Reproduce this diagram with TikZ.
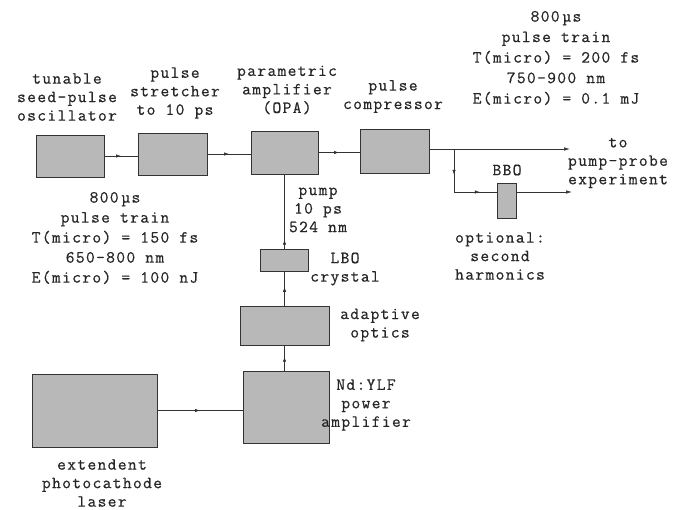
\documentclass[tikz,border=0pt]{standalone}
\usepackage{fontspec}
\setmonofont[LetterSpace=8,FakeBold=0.6]{Latin Modern Mono}
\usetikzlibrary{decorations.markings,arrows.meta}
\begin{document}
\begin{tikzpicture}[x=1pt,y=-1pt,
  box/.style={draw=black!80, line width=0.8pt, fill=black!28, inner sep=0pt},
  lbl/.style={align=center, font=\ttfamily\fontsize{17}{18.5}\selectfont, inner sep=0pt, text=black!85},
  ln/.style={line width=0.7pt, draw=black!80},
  midarrow/.style={ln, postaction={decorate}, decoration={markings, mark=at position #1 with {\arrow{Latex[length=5pt,width=3.5pt]}}}},
  endarrow/.style={ln, -{Latex[length=6pt,width=3.5pt]}}
]
\useasboundingbox (0,0) rectangle (684,509);
% boxes
\node[box, minimum width=68pt, minimum height=42pt] (osc) at (70,156) {};
\node[box, minimum width=69pt, minimum height=42pt] (str) at (172.5,154) {};
\node[box, minimum width=67pt, minimum height=43pt] (opa) at (284.5,152.5) {};
\node[box, minimum width=69pt, minimum height=44pt] (comp) at (394.5,151) {};
\node[box, minimum width=19pt, minimum height=35pt] (bbo) at (506.5,200.5) {};
\node[box, minimum width=48pt, minimum height=22pt] (lbo) at (284.5,260) {};
\node[box, minimum width=89pt, minimum height=39pt] (ada) at (284.5,325.5) {};
\node[box, minimum width=86pt, minimum height=72pt] (nd) at (286,407) {};
\node[box, minimum width=125pt, minimum height=73pt] (pc) at (94.5,410.5) {};
% coordinates
\coordinate (out1) at (570,149);
\coordinate (br) at (454,149);
\coordinate (brd) at (454,192);
\coordinate (bin) at (497,192);
\coordinate (bout) at (516,192);
\coordinate (out2) at (572,192);
% connectors
\draw[midarrow=0.5] (osc.east) -- (str.west|-osc.east);
\draw[midarrow=0.5] (str.east) -- (opa.west|-str.east);
\draw[midarrow=0.5] (opa.east) -- (comp.west|-opa.east);
\draw[endarrow] (comp.east|-out1) -- (out1);
\draw[midarrow=0.6] (br) -- (brd);
\draw[midarrow=0.6] (brd) -- (bin);
\draw[endarrow] (bout) -- (out2);
\draw[midarrow=0.12] (lbo.north) -- (opa.south);
\draw[midarrow=0.55] (ada.north) -- (lbo.south);
\draw[midarrow=0.55] (nd.north-|ada.north) -- (ada.south);
\draw[midarrow=0.5] (pc.east) -- (nd.west|-pc.east);
% labels
\node[lbl] (tosc) at (67,97) {tunable\\seed-pulse\\oscillator};
\node[lbl] (tstr) at (175,93) {pulse\\stretcher\\to 10 ps};
\node[lbl] (topa) at (287,90) {parametric\\amplifier\\(OPA)};
\node[lbl] (tcomp) at (393,96.5) {pulse\\compressor};
\node[lbl, font=\ttfamily\fontsize{17}{20.5}\selectfont] (tout) at (556,58) {800\,µs\\pulse train\\T(micro) = 200 fs\\750-900 nm\\E(micro) = 0.1 mJ};
\node[lbl] (tbbo) at (507,170) {BBO};
\node[lbl] (texp) at (618,163) {to\\pump-probe\\experiment};
\node[lbl] (topt) at (500,256) {optional:\\second\\harmonics};
\node[lbl, font=\ttfamily\fontsize{17}{20}\selectfont] (tin) at (115,238) {800\,µs\\pulse train\\T(micro) = 150 fs\\650-800 nm\\E(micro) = 100 nJ};
\node[lbl] (tpump) at (318,210) {pump\\10 ps\\524 nm};
\node[lbl] (tlbo) at (345,269) {LBO\\crystal};
\node[lbl] (tada) at (380,325) {adaptive\\optics};
\node[lbl] (tnd) at (366,405) {Nd:YLF\\power\\amplifier};
\node[lbl] (tpc) at (102,483) {extendent\\photocathode\\laser};
\end{tikzpicture}
\end{document}
